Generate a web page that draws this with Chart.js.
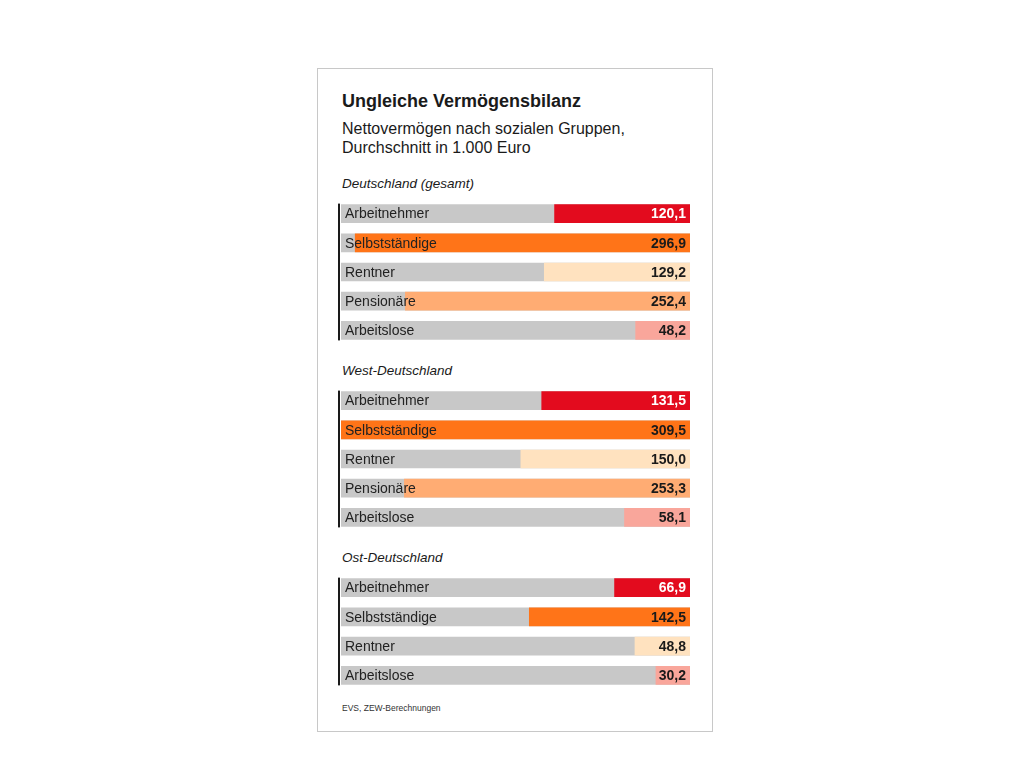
<!DOCTYPE html>
<html lang="de">
<head>
<meta charset="utf-8">
<title>Ungleiche Vermögensbilanz</title>
<script src="https://cdn.jsdelivr.net/npm/chart.js@4.4.1/dist/chart.umd.min.js"></script>
<style>
  html, body { margin: 0; padding: 0; background: #fff; }
  body { width: 1024px; height: 768px; position: relative; font-family: "Liberation Sans", Arial, Helvetica, sans-serif; color: #1a1a1a; }
  .card { position: absolute; left: 317px; top: 68px; width: 396px; height: 664px; box-sizing: border-box; border: 1px solid #c8c8c8; }
  .txt { position: absolute; left: 342px; white-space: nowrap; }
  .title { top: 90px; font-size: 18px; font-weight: bold; line-height: 22px; }
  .sub { font-size: 16px; line-height: 20px; }
  .group { font-size: 13.5px; font-style: italic; line-height: 16px; }
  .source { top: 702px; font-size: 8.5px; line-height: 12px; color: #333; }
  .box { position: absolute; left: 336px; width: 354px; }
</style>
</head>
<body>
<div class="card"></div>
<div class="txt title">Ungleiche Vermögensbilanz</div>
<div class="txt sub" style="top:119px">Nettovermögen nach sozialen Gruppen,</div>
<div class="txt sub" style="top:138px">Durchschnitt in 1.000 Euro</div>
<div class="txt group" style="top:176px" id="g1"></div>
<div class="txt group" style="top:363px" id="g2"></div>
<div class="txt group" style="top:550px" id="g3"></div>
<div class="box" style="top:199px;height:146px"><canvas id="c1"></canvas></div>
<div class="box" style="top:386px;height:146px"><canvas id="c2"></canvas></div>
<div class="box" style="top:573px;height:117px"><canvas id="c3"></canvas></div>
<div class="txt source">EVS, ZEW-Berechnungen</div>

<script>
const groupNames = ['Deutschland (gesamt)', 'West-Deutschland', 'Ost-Deutschland'];
const catsGesamt = ['Arbeitnehmer', 'Selbstständige', 'Rentner', 'Pensionäre', 'Arbeitslose'];
const valsGesamt = [120.1, 296.9, 129.2, 252.4, 48.2];
const catsWest = ['Arbeitnehmer', 'Selbstständige', 'Rentner', 'Pensionäre', 'Arbeitslose'];
const valsWest = [131.5, 309.5, 150.0, 253.3, 58.1];
const catsOst = ['Arbeitnehmer', 'Selbstständige', 'Rentner', 'Arbeitslose'];
const valsOst = [66.9, 142.5, 48.8, 30.2];
const scaleMax = 309.5;

const catColors = {
    'Arbeitnehmer': '#e30b1e',
    'Selbstständige': '#ff7418',
    'Rentner': '#ffe2bf',
    'Pensionäre': '#ffac73',
    'Arbeitslose': '#f9a69b'
};
const trackColor = '#c8c8c8';

// labels inside the bars + black axis line on the left
const barText = {
    id: 'barText',
    afterDatasetsDraw(chart) {
        const ctx = chart.ctx;
        const area = chart.chartArea;
        const meta = chart.getDatasetMeta(0);
        const cats = chart.data.labels;
        const vals = chart.data.datasets[0].data;
        ctx.save();
        const first = meta.data[0], last = meta.data[meta.data.length - 1];
        ctx.fillStyle = '#1a1a1a';
        ctx.fillRect(area.left - 3, first.y - first.height / 2 - 1, 2, last.y - first.y + first.height + 2);
        ctx.textBaseline = 'middle';
        meta.data.forEach((bar, i) => {
            ctx.font = '14px "Liberation Sans", Arial, sans-serif';
            ctx.textAlign = 'left';
            ctx.fillStyle = '#222';
            ctx.fillText(cats[i], area.left + 4, bar.y + 1);
            ctx.font = 'bold 14px "Liberation Sans", Arial, sans-serif';
            ctx.textAlign = 'right';
            ctx.fillStyle = cats[i] === 'Arbeitnehmer' ? '#fff' : '#1a1a1a';
            ctx.fillText(vals[i].toFixed(1).replace('.', ','), area.right - 4, bar.y + 1);
        });
        ctx.restore();
    }
};

function makeChart(id, cats, vals) {
    return new Chart(document.getElementById(id), {
        type: 'bar',
        data: {
            labels: cats,
            datasets: [
                { data: vals, backgroundColor: cats.map(c => catColors[c]), order: 1 },
                { data: cats.map(() => scaleMax), backgroundColor: trackColor, order: 2 }
            ]
        },
        options: {
            indexAxis: 'y',
            responsive: true,
            maintainAspectRatio: false,
            animation: false,
            layout: { padding: { left: 5, right: 0, top: 0, bottom: 0 } },
            datasets: { bar: { grouped: false, barThickness: 18, borderWidth: 0 } },
            scales: {
                x: { display: false, reverse: true, min: 0, max: scaleMax },
                y: { display: false }
            },
            plugins: { legend: { display: false }, tooltip: { enabled: false } }
        },
        plugins: [barText]
    });
}

document.getElementById('g1').textContent = groupNames[0];
document.getElementById('g2').textContent = groupNames[1];
document.getElementById('g3').textContent = groupNames[2];

makeChart('c1', catsGesamt, valsGesamt);
makeChart('c2', catsWest, valsWest);
makeChart('c3', catsOst, valsOst);
</script>
</body>
</html>
